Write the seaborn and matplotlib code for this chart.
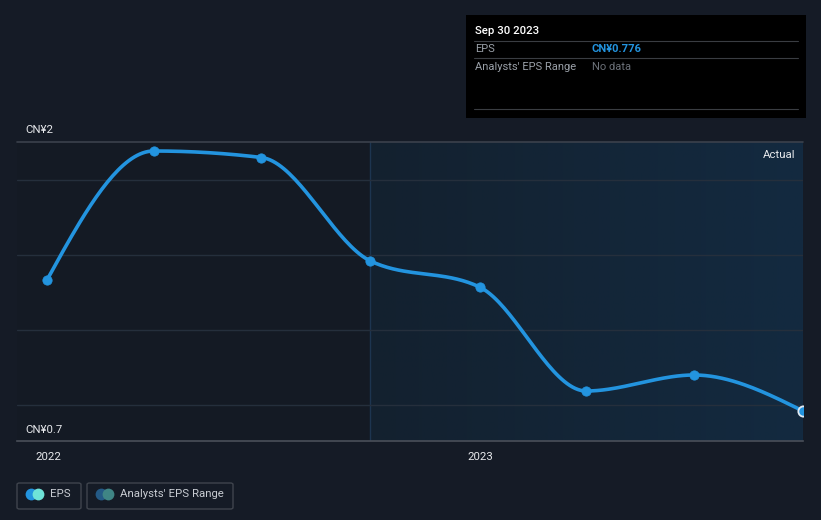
import numpy as np
import pandas as pd
import matplotlib
matplotlib.use("Agg")
import matplotlib.pyplot as plt
import matplotlib.dates as mdates
from matplotlib.patches import FancyBboxPatch, Rectangle, Circle
import seaborn as sns

# ---- data ----
dates = ["2021-12-31", "2022-03-31", "2022-06-30", "2022-09-30",
         "2022-12-31", "2023-03-31", "2023-06-30", "2023-09-30"]
eps = [1.30, 1.816, 1.79, 1.376, 1.272, 0.856, 0.92, 0.776]
year_ticks = ["2022-01-01", "2023-01-01"]
year_labels = ["2022", "2023"]
y_labels = ["CN¥2", "CN¥0.7"]
forecast_start = "2022-09-30"

sns.set_theme(style="dark")
plt.rcParams['font.family'] = ['Roboto', 'DejaVu Sans']

BG = "#151b26"
LINE = "#2394df"

df = pd.DataFrame({"date": pd.to_datetime(dates), "eps": eps})
xn = mdates.date2num(df["date"])
yv = np.asarray(eps, dtype=float)

# monotone cubic (d3 curveMonotoneX style) for smooth line rendering
def monotone(x, y, n=40):
    h = np.diff(x)
    s = np.diff(y) / h
    t = np.zeros_like(y)
    for i in range(1, len(x) - 1):
        s0, s1 = s[i - 1], s[i]
        p = (s0 * h[i] + s1 * h[i - 1]) / (h[i - 1] + h[i])
        t[i] = (np.sign(s0) + np.sign(s1)) * min(abs(s0), abs(s1), 0.5 * abs(p))
    t[0] = (3 * s[0] - t[1]) / 2
    t[-1] = (3 * s[-1] - t[-2]) / 2
    xs, ys = [], []
    for i in range(len(x) - 1):
        u = np.linspace(0, 1, n)
        hh = h[i]
        h00 = 2 * u**3 - 3 * u**2 + 1
        h10 = u**3 - 2 * u**2 + u
        h01 = -2 * u**3 + 3 * u**2
        h11 = u**3 - u**2
        xs.append(x[i] + u * hh)
        ys.append(h00 * y[i] + h10 * hh * t[i] + h01 * y[i + 1] + h11 * hh * t[i + 1])
    return np.concatenate(xs), np.concatenate(ys)

fig = plt.figure(figsize=(8.21, 5.2), dpi=100, facecolor=BG)
W, H = 821, 520
ax = fig.add_axes([17 / W, (H - 441) / H, (803 - 17) / W, (441 - 142) / H])
ax.set_facecolor("#141a24")

x_left = mdates.date2num(pd.Timestamp("2021-12-31")) - 30 * 365.25 / 433
x_right = xn[-1]
ax.set_xlim(x_left, x_right)
ymin, ymax = 0.656, 1.852
ax.set_ylim(ymin, ymax)

# shaded "actual" region with horizontal gradient
fs = mdates.date2num(pd.Timestamp(forecast_start))
grad = np.linspace(0, 1, 256).reshape(1, -1)
cmap = matplotlib.colors.LinearSegmentedColormap.from_list("g", ["#13212f", "#132a40"])
ax.imshow(grad, extent=[fs, x_right, ymin, ymax], aspect="auto", cmap=cmap, zorder=0)
ax.axvline(fs, color="#1d3550", lw=1, zorder=1)

# gridlines
for g in [0.8, 1.1, 1.4, 1.7]:
    ax.axhline(g, color="#252f3c", lw=1, zorder=1)
ax.axhline(ymax, color="#3b414c", lw=1.2, zorder=2, clip_on=False)

# smooth line
sx, sy = monotone(xn, yv)
ax.plot(sx, sy, color=LINE, lw=2.6, zorder=3, solid_capstyle="round")
sns.scatterplot(x=xn[:-1], y=yv[:-1], color=LINE, s=45, edgecolor=LINE, ax=ax, zorder=4, legend=False)
ax.scatter([xn[-1]], [yv[-1]], s=55, facecolor=LINE, edgecolor="#dfe9f3", linewidth=1.3, zorder=5, clip_on=True)

for sp in ["top", "right", "left"]:
    ax.spines[sp].set_visible(False)
ax.spines["bottom"].set_color("#4a4f59")
ax.spines["bottom"].set_linewidth(1.2)

ax.set_xticks(mdates.date2num(pd.to_datetime(year_ticks)))
ax.set_xticklabels(year_labels, color="#e6e8eb", fontsize=8.2)
ax.tick_params(axis="x", length=4, color="#4a4f59", pad=4, width=1)
ax.set_yticks([])
ax.set_xlabel("")
ax.set_ylabel("")
ax.grid(False)

fig.text(25 / W, 1 - 130 / H, y_labels[0], color="#e6e8eb", fontsize=8.2, va="center", ha="left")
fig.text(25 / W, 1 - 430 / H, y_labels[1], color="#e6e8eb", fontsize=8.2, va="center", ha="left")
ax.text(0.99, 0.955, "Actual", transform=ax.transAxes, color="#e6e8eb", fontsize=8.2, ha="right", va="center")

# tooltip box
tip = Rectangle((466 / W, 1 - 118 / H), 340 / W, 103 / H, transform=fig.transFigure,
                facecolor="#000000", edgecolor="none", zorder=10)
fig.patches.append(tip)
fig.text(475 / W, 1 - 31 / H, "Sep 30 2023", color="#ffffff", fontsize=8.2, va="center", zorder=11, fontweight="medium")
for yy in [41, 58, 109]:
    fig.add_artist(plt.Line2D([474 / W, 798 / W], [1 - yy / H, 1 - yy / H], color="#3a3d42", lw=0.8, zorder=11))
fig.text(475 / W, 1 - 49.5 / H, "EPS", color="#9aa0a8", fontsize=8, va="center", zorder=11)
fig.text(592 / W, 1 - 49.5 / H, "CN¥0.776", color="#2394df", fontsize=8, va="center", zorder=11, fontweight="bold")
fig.text(475 / W, 1 - 66.5 / H, "Analysts' EPS Range", color="#9aa0a8", fontsize=8, va="center", zorder=11)
fig.text(592 / W, 1 - 66.5 / H, "No data", color="#6b7078", fontsize=8, va="center", zorder=11)

# legend boxes
def legend_box(x0, x1, label, c1, c2):
    box = FancyBboxPatch((x0 / W, 1 - 509 / H), (x1 - x0) / W, 26 / H, transform=fig.transFigure,
                         boxstyle="round,pad=0,rounding_size=0.003", facecolor="none",
                         edgecolor="#3f444d", lw=1)
    fig.patches.append(box)
    cy = 1 - 494 / H
    fig.patches.append(Circle(((x0 + 15) / W, cy), 0.0, transform=fig.transFigure))
    fig.add_artist(plt.Line2D([(x0 + 14) / W], [cy], marker="o", markersize=8.5, color=c1, markeredgewidth=0))
    fig.add_artist(plt.Line2D([(x0 + 21) / W], [cy], marker="o", markersize=8.5, color=c2, markeredgewidth=0))
    fig.text((x0 + 33) / W, cy, label, color="#c8ccd2", fontsize=8.2, va="center")

legend_box(17, 81, "EPS", "#2394df", "#6fe3d8")
legend_box(87, 233, "Analysts' EPS Range", "#245a86", "#3f8585")

fig.savefig("out.png", dpi=100, facecolor=BG)
